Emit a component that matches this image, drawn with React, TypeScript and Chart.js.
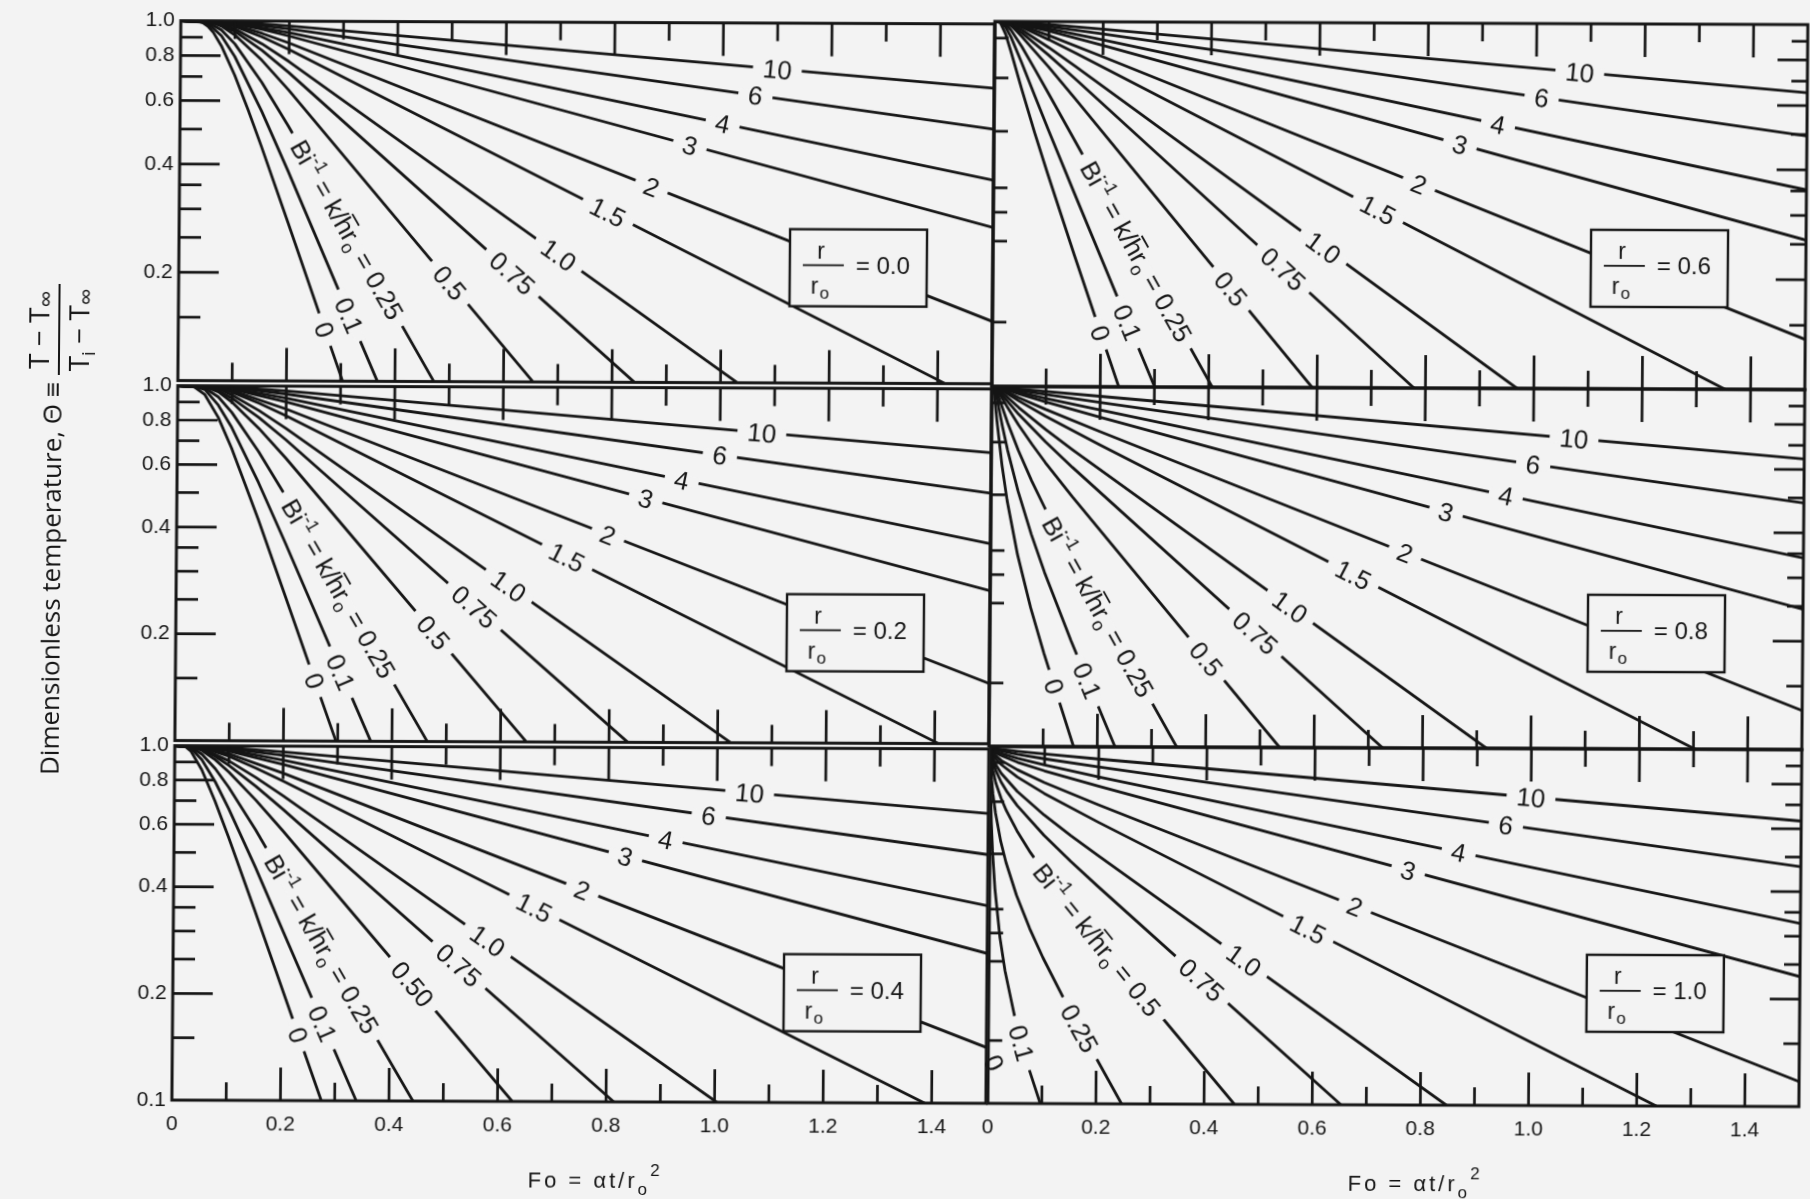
import React, { useEffect, useRef } from 'react';
import { Chart, registerables } from 'chart.js';

Chart.register(...registerables);

// ---------------- data ----------------
// Bi^-1 = k/(h ro) values, one curve each, in this order in every panel
const BI_INV_LABELS = ['0', '0.1', '0.25', '0.5', '0.75', '1.0', '1.5', '2', '3', '4', '6', '10'];
const FO_TICK_LABELS = [0, 0.2, 0.4, 0.6, 0.8, 1.0, 1.2, 1.4];
const THETA_TICK_LABELS = [0.2, 0.4, 0.6, 0.8, 1.0];
const THETA_TICK_LABELS_LAST = [0.1, 0.2, 0.4, 0.6, 0.8, 1.0];
const THETA_MAJOR = [0.2, 0.4, 0.6, 0.8];
const THETA_MINOR = [0.15, 0.25, 0.3, 0.35, 0.5, 0.7, 0.9];
const FO_MINOR = [0.1, 0.3, 0.5, 0.7, 0.9, 1.1, 1.3];
const FO_MAJOR = [0.2, 0.4, 0.6, 0.8, 1.0, 1.2, 1.4];

// [Fo, Theta] points, r/ro = 0.0
const CURVES_R00 = [
  [[0, 1], [0.03, 0.999], [0.04, 0.989], [0.05, 0.966], [0.06, 0.929], [0.075, 0.853], [0.1, 0.707], [0.125, 0.568], [0.15, 0.45], [0.2, 0.277], [0.3035, 0.1]],
  [[0, 1], [0.035, 0.998], [0.05, 0.983], [0.075, 0.909], [0.1, 0.796], [0.15, 0.563], [0.2, 0.383], [0.3676, 0.1]],
  [[0, 1], [0.04, 0.999], [0.05, 0.99], [0.075, 0.943], [0.1, 0.863], [0.15, 0.676], [0.2, 0.51], [0.4718, 0.1]],
  [[0, 1], [0.05, 0.998], [0.075, 0.967], [0.1, 0.913], [0.15, 0.778], [0.2, 0.643], [0.6546, 0.1]],
  [[0, 1], [0.06, 0.99], [0.075, 0.971], [0.1, 0.935], [0.15, 0.829], [0.2, 0.719], [0.8414, 0.1]],
  [[0, 1], [0.06, 0.992], [0.08, 0.976], [0.1, 0.949], [0.15, 0.864], [0.2, 0.772], [1.0311, 0.1]],
  [[0, 1], [0.08, 0.983], [0.1, 0.965], [0.15, 0.903], [0.2, 0.834], [1.414, 0.1]],
  [[0, 1], [0.08, 0.987], [0.1, 0.973], [0.15, 0.924], [0.2, 0.869], [1.5, 0.149]],
  [[0, 1], [0.1, 0.981], [0.15, 0.948], [0.2, 0.909], [1.5, 0.2716]],
  [[0, 1], [0.1, 0.986], [0.2, 0.929], [1.5, 0.368]],
  [[0, 1], [0.1, 0.99], [0.2, 0.952], [1.5, 0.51]],
  [[0, 1], [0.1, 0.995], [0.2, 0.97], [1.5, 0.6625]],
];

// r/ro = 0.2
const CURVES_R02 = [
  [[0, 1], [0.02, 1.0], [0.03, 0.994], [0.05, 0.944], [0.075, 0.815], [0.1, 0.668], [0.15, 0.422], [0.2, 0.259], [0.2968, 0.1]],
  [[0, 1], [0.03, 0.997], [0.05, 0.976], [0.075, 0.882], [0.1, 0.764], [0.15, 0.535], [0.2, 0.363], [0.3609, 0.1]],
  [[0, 1], [0.035, 0.997], [0.05, 0.985], [0.075, 0.93], [0.1, 0.842], [0.15, 0.653], [0.2, 0.491], [0.4651, 0.1]],
  [[0, 1], [0.05, 0.994], [0.075, 0.961], [0.1, 0.9], [0.15, 0.76], [0.2, 0.627], [0.6478, 0.1]],
  [[0, 1], [0.06, 0.988], [0.075, 0.968], [0.1, 0.923], [0.15, 0.815], [0.2, 0.706], [0.8347, 0.1]],
  [[0, 1], [0.06, 0.99], [0.08, 0.973], [0.1, 0.942], [0.15, 0.853], [0.2, 0.76], [1.0244, 0.1]],
  [[0, 1], [0.08, 0.981], [0.1, 0.96], [0.15, 0.895], [0.2, 0.825], [1.4073, 0.1]],
  [[0, 1], [0.08, 0.985], [0.1, 0.969], [0.2, 0.862], [1.5, 0.1477]],
  [[0, 1], [0.1, 0.979], [0.2, 0.903], [1.5, 0.2699]],
  [[0, 1], [0.1, 0.984], [0.2, 0.925], [1.5, 0.3663]],
  [[0, 1], [0.1, 0.99], [0.2, 0.95], [1.5, 0.5083]],
  [[0, 1], [0.1, 0.994], [0.2, 0.969], [1.5, 0.6612]],
];

// r/ro = 0.4
const CURVES_R04 = [
  [[0, 1], [0.02, 0.993], [0.03, 0.964], [0.05, 0.856], [0.075, 0.698], [0.1, 0.555], [0.15, 0.343], [0.2753, 0.1]],
  [[0, 1], [0.02, 0.998], [0.03, 0.983], [0.05, 0.914], [0.075, 0.792], [0.1, 0.666], [0.15, 0.456], [0.3397, 0.1]],
  [[0, 1], [0.03, 0.99], [0.05, 0.947], [0.075, 0.862], [0.1, 0.764], [0.15, 0.581], [0.4442, 0.1]],
  [[0, 1], [0.03, 0.995], [0.05, 0.97], [0.075, 0.913], [0.1, 0.844], [0.15, 0.704], [0.2, 0.578], [0.6273, 0.1]],
  [[0, 1], [0.04, 0.993], [0.05, 0.976], [0.075, 0.933], [0.1, 0.881], [0.15, 0.77], [0.2, 0.664], [0.8144, 0.1]],
  [[0, 1], [0.04, 0.995], [0.05, 0.982], [0.1, 0.907], [0.15, 0.815], [0.2, 0.725], [1.0041, 0.1]],
  [[0, 1], [0.05, 0.988], [0.1, 0.935], [0.15, 0.866], [0.2, 0.797], [1.387, 0.1]],
  [[0, 1], [0.05, 0.991], [0.1, 0.949], [0.2, 0.839], [1.5, 0.1438]],
  [[0, 1], [0.05, 0.994], [0.1, 0.966], [0.2, 0.888], [1.5, 0.2649]],
  [[0, 1], [0.05, 0.996], [0.1, 0.974], [0.2, 0.913], [1.5, 0.3611]],
  [[0, 1], [0.1, 0.982], [0.2, 0.941], [1.5, 0.5034]],
  [[0, 1], [0.1, 0.989], [0.2, 0.963], [1.5, 0.6573]],
];

// r/ro = 0.6
const CURVES_R06 = [
  [[0, 1], [0.01, 0.993], [0.02, 0.924], [0.03, 0.829], [0.05, 0.657], [0.075, 0.497], [0.1, 0.382], [0.15, 0.23], [0.2342, 0.1]],
  [[0, 1], [0.01, 0.995], [0.02, 0.964], [0.03, 0.906], [0.05, 0.772], [0.075, 0.625], [0.1, 0.507], [0.15, 0.337], [0.3005, 0.1]],
  [[0, 1], [0.01, 0.997], [0.02, 0.981], [0.03, 0.946], [0.05, 0.854], [0.075, 0.738], [0.1, 0.636], [0.4068, 0.1]],
  [[0, 1], [0.02, 0.991], [0.03, 0.975], [0.05, 0.909], [0.1, 0.751], [0.15, 0.614], [0.5913, 0.1]],
  [[0, 1], [0.02, 0.994], [0.05, 0.931], [0.1, 0.809], [0.15, 0.696], [0.779, 0.1]],
  [[0, 1], [0.02, 0.996], [0.05, 0.948], [0.1, 0.849], [0.15, 0.753], [0.9692, 0.1]],
  [[0, 1], [0.02, 0.998], [0.05, 0.964], [0.1, 0.892], [0.15, 0.82], [1.3527, 0.1]],
  [[0, 1], [0.05, 0.972], [0.1, 0.916], [0.2, 0.802], [1.5, 0.1372]],
  [[0, 1], [0.05, 0.978], [0.1, 0.942], [0.2, 0.861], [1.5, 0.2567]],
  [[0, 1], [0.05, 0.983], [0.1, 0.956], [0.2, 0.892], [1.5, 0.3525]],
  [[0, 1], [0.05, 0.988], [0.1, 0.97], [0.2, 0.926], [1.5, 0.4953]],
  [[0, 1], [0.05, 0.993], [0.1, 0.982], [0.2, 0.954], [1.5, 0.6508]],
];

// r/ro = 0.8
const CURVES_R08 = [
  [[0, 1], [0.0025, 0.994], [0.005, 0.943], [0.01, 0.803], [0.02, 0.603], [0.03, 0.482], [0.05, 0.341], [0.075, 0.243], [0.1, 0.182], [0.1563, 0.1]],
  [[0, 1], [0.005, 0.984], [0.01, 0.92], [0.02, 0.777], [0.03, 0.666], [0.05, 0.512], [0.075, 0.389], [0.1, 0.305], [0.15, 0.197], [0.2328, 0.1]],
  [[0, 1], [0.005, 0.993], [0.01, 0.959], [0.02, 0.871], [0.03, 0.791], [0.05, 0.664], [0.075, 0.547], [0.1, 0.459], [0.15, 0.332], [0.3467, 0.1]],
  [[0, 1], [0.01, 0.978], [0.02, 0.923], [0.03, 0.871], [0.05, 0.782], [0.075, 0.691], [0.1, 0.615], [0.15, 0.495], [0.5366, 0.1]],
  [[0, 1], [0.01, 0.984], [0.02, 0.943], [0.05, 0.837], [0.1, 0.702], [0.15, 0.597], [0.7267, 0.1]],
  [[0, 1], [0.01, 0.99], [0.02, 0.959], [0.05, 0.874], [0.1, 0.76], [0.15, 0.668], [0.9182, 0.1]],
  [[0, 1], [0.01, 0.994], [0.02, 0.973], [0.05, 0.912], [0.1, 0.827], [0.2, 0.69], [1.303, 0.1]],
  [[0, 1], [0.02, 0.979], [0.05, 0.931], [0.1, 0.864], [0.2, 0.751], [1.5, 0.1284]],
  [[0, 1], [0.02, 0.987], [0.05, 0.954], [0.1, 0.906], [0.2, 0.823], [1.5, 0.2454]],
  [[0, 1], [0.02, 0.99], [0.05, 0.964], [0.1, 0.927], [0.2, 0.862], [1.5, 0.3407]],
  [[0, 1], [0.02, 0.994], [0.05, 0.976], [0.1, 0.951], [0.2, 0.905], [1.5, 0.4841]],
  [[0, 1], [0.02, 0.996], [0.05, 0.985], [0.1, 0.969], [0.2, 0.941], [1.5, 0.6419]],
];

// r/ro = 1.0
const CURVES_R10 = [
  [[0, 1], [0, 0.1]],
  [[0, 1], [0.001, 0.72], [0.0025, 0.61], [0.005, 0.51], [0.01, 0.4], [0.02, 0.292], [0.03, 0.235], [0.05, 0.171], [0.075, 0.126], [0.0971, 0.1]],
  [[0, 1], [0.001, 0.87], [0.0025, 0.805], [0.005, 0.735], [0.01, 0.65], [0.02, 0.542], [0.03, 0.474], [0.05, 0.383], [0.075, 0.309], [0.1, 0.256], [0.15, 0.183], [0.2475, 0.1]],
  [[0, 1], [0.001, 0.93], [0.0025, 0.893], [0.005, 0.852], [0.01, 0.79], [0.02, 0.716], [0.03, 0.661], [0.05, 0.58], [0.075, 0.505], [0.1, 0.447], [0.15, 0.357], [0.2, 0.288], [0.4562, 0.1]],
  [[0, 1], [0.001, 0.95], [0.0025, 0.925], [0.005, 0.897], [0.01, 0.855], [0.02, 0.794], [0.03, 0.75], [0.05, 0.683], [0.1, 0.564], [0.15, 0.477], [0.2, 0.407], [0.6532, 0.1]],
  [[0, 1], [0.001, 0.964], [0.0025, 0.944], [0.005, 0.92], [0.01, 0.888], [0.02, 0.84], [0.05, 0.748], [0.1, 0.643], [0.15, 0.563], [0.2, 0.496], [0.8481, 0.1]],
  [[0, 1], [0.0025, 0.96], [0.005, 0.945], [0.01, 0.921], [0.02, 0.889], [0.05, 0.821], [0.1, 0.739], [0.2, 0.615], [1.2363, 0.1]],
  [[0, 1], [0.0025, 0.97], [0.005, 0.958], [0.01, 0.94], [0.02, 0.913], [0.05, 0.86], [0.1, 0.793], [0.2, 0.688], [1.5, 0.1175]],
  [[0, 1], [0.0025, 0.978], [0.005, 0.97], [0.01, 0.957], [0.02, 0.942], [0.05, 0.903], [0.1, 0.855], [0.2, 0.776], [1.5, 0.2312]],
  [[0, 1], [0.005, 0.978], [0.01, 0.967], [0.02, 0.955], [0.05, 0.926], [0.1, 0.888], [0.2, 0.824], [1.5, 0.3258]],
  [[0, 1], [0.005, 0.986], [0.01, 0.979], [0.02, 0.97], [0.05, 0.95], [0.1, 0.924], [0.2, 0.878], [1.5, 0.4699]],
  [[0, 1], [0.005, 0.992], [0.01, 0.987], [0.02, 0.981], [0.05, 0.969], [0.1, 0.953], [0.2, 0.924], [1.5, 0.6305]],
];

// label placement along each curve (Fo where the label sits)
const LABEL_FO_R00 = [0.27, 0.315, 0.31, 0.5, 0.615, 0.7, 0.79, 0.87, 0.94, 1.0, 1.06, 1.1];
const LABEL_FO_R06 = [0.2, 0.25, 0.265, 0.44, 0.536, 0.61, 0.71, 0.785, 0.86, 0.93, 1.01, 1.08];
const LABEL_FO_R02 = [0.257, 0.305, 0.3, 0.475, 0.55, 0.613, 0.72, 0.795, 0.864, 0.93, 1.0, 1.077];
const LABEL_FO_R08 = [0.12, 0.181, 0.2, 0.4, 0.49, 0.554, 0.67, 0.765, 0.84, 0.95, 1.0, 1.075];
const LABEL_FO_R04 = [0.232, 0.277, 0.274, 0.442, 0.527, 0.58, 0.665, 0.753, 0.832, 0.906, 0.985, 1.06];
const LABEL_FO_R10 = [[0.012, 0.13, 65], 0.062, 0.169, 0.2, 0.394, 0.472, 0.59, 0.676, 0.774, 0.867, 0.954, 1.0];

// ---------------- layout / style ----------------
const INK = '#151515';
const BG = '#f3f3f3';
const SANS = '"Liberation Sans", Arial, Helvetica, sans-serif';
const COL_X = [176, 990, 1803];
const ROW_Y = [21, 386, 746, 1103];
const BOX_DX = [611, 598];
const BOX_DY = 206;
const BOX_W = 137;
const BOX_H = 77;
const SKEW_X = -0.0083;
const SKEW_Y = 0.004;
const Y_AXIS_W = 66;
const X_AXIS_H = 44;
const LABEL_SIZE = 26;
const LABEL_SMALL = 18;

const PANELS = [
  { key: 'r00', r: '0.0', col: 0, row: 0, curves: CURVES_R00, labels: LABEL_FO_R00, biIndex: 2, texts: {} },
  { key: 'r06', r: '0.6', col: 1, row: 0, curves: CURVES_R06, labels: LABEL_FO_R06, biIndex: 2, texts: {} },
  { key: 'r02', r: '0.2', col: 0, row: 1, curves: CURVES_R02, labels: LABEL_FO_R02, biIndex: 2, texts: {} },
  { key: 'r08', r: '0.8', col: 1, row: 1, curves: CURVES_R08, labels: LABEL_FO_R08, biIndex: 2, texts: {} },
  { key: 'r04', r: '0.4', col: 0, row: 2, curves: CURVES_R04, labels: LABEL_FO_R04, biIndex: 2, texts: { 3: '0.50' } },
  { key: 'r10', r: '1.0', col: 1, row: 2, curves: CURVES_R10, labels: LABEL_FO_R10, biIndex: 3, texts: {} },
];

const font = (px: number) => `${px}px ${SANS}`;

function locate(pts: number[][], fo: number) {
  for (let i = 0; i < pts.length - 1; i++) {
    const [x1, y1] = pts[i];
    const [x2, y2] = pts[i + 1];
    if (x2 > x1 && fo >= x1 && fo <= x2) {
      const t = (fo - x1) / (x2 - x1);
      const ly = Math.log10(y1) + t * (Math.log10(y2) - Math.log10(y1));
      return { th: Math.pow(10, ly), i };
    }
  }
  return null;
}

function labelSegs(text: string, isBi: boolean) {
  if (!isBi) return [{ t: text }];
  return [
    { t: 'Bi' }, { t: '-1', sup: true }, { t: ' = k/' }, { t: 'h', bar: true },
    { t: 'r' }, { t: 'o', sub: true }, { t: ' = ' + text },
  ];
}

function drawLabel(ctx: CanvasRenderingContext2D, x: number, y: number, ang: number, segs: any[], erase: boolean) {
  const size = LABEL_SIZE;
  const small = LABEL_SMALL;
  const widths = segs.map((s) => {
    ctx.font = font(s.sup || s.sub ? small : size);
    return ctx.measureText(s.t).width;
  });
  const total = widths.reduce((a, b) => a + b, 0);
  ctx.save();
  ctx.translate(x, y);
  ctx.rotate(ang);
  if (erase) {
    ctx.fillStyle = BG;
    ctx.fillRect(-total / 2 - 10, -5, total + 20, 10);
  }
  ctx.fillStyle = INK;
  ctx.textAlign = 'left';
  ctx.textBaseline = 'alphabetic';
  let cx = -total / 2;
  const base = size * 0.36;
  segs.forEach((s, i) => {
    ctx.font = font(s.sup || s.sub ? small : size);
    const dy = s.sup ? -size * 0.45 : s.sub ? size * 0.22 : 0;
    ctx.fillText(s.t, cx, base + dy);
    if (s.bar) ctx.fillRect(cx + 1, base - size * 0.86, widths[i] - 1, 1.8);
    cx += widths[i];
  });
  ctx.restore();
}

function makeDecor(p: any) {
  return {
    id: 'decor_' + p.key,
    afterDatasetsDraw(chart: any) {
      const { ctx, chartArea: a } = chart;
      const xs = chart.scales.x;
      const ys = chart.scales.y;
      const px = (f: number) => xs.getPixelForValue(f);
      const py = (t: number) => ys.getPixelForValue(t);
      ctx.save();

      // curve labels
      p.labels.forEach((spec: any, i: number) => {
        const text = p.texts[i] || BI_INV_LABELS[i];
        const segs = labelSegs(text, i === p.biIndex);
        if (Array.isArray(spec)) {
          drawLabel(ctx, px(spec[0]), py(spec[1]), (spec[2] * Math.PI) / 180, segs, false);
          return;
        }
        const pts = p.curves[i];
        const loc = locate(pts, spec);
        if (!loc) return;
        const [x1, y1] = pts[loc.i];
        const [x2, y2] = pts[loc.i + 1];
        const ang = Math.atan2(py(y2) - py(y1), px(x2) - px(x1));
        drawLabel(ctx, px(spec), py(loc.th), ang, segs, true);
      });

      // r/ro box
      const bx = a.left + BOX_DX[p.col];
      const by = a.top + BOX_DY;
      ctx.fillStyle = BG;
      ctx.fillRect(bx, by, BOX_W, BOX_H);
      ctx.strokeStyle = INK;
      ctx.lineWidth = 2.4;
      ctx.strokeRect(bx, by, BOX_W, BOX_H);
      ctx.fillStyle = INK;
      ctx.textBaseline = 'alphabetic';
      ctx.font = font(23);
      ctx.textAlign = 'center';
      ctx.fillText('r', bx + 31, by + 29);
      ctx.fillRect(bx + 13, by + 35, 41, 1.8);
      ctx.textAlign = 'left';
      ctx.fillText('r', bx + 21, by + 64);
      ctx.font = font(17);
      ctx.fillText('o', bx + 30, by + 69);
      ctx.font = font(24);
      ctx.fillText('= ' + p.r, bx + 66, by + 44);

      // frame
      ctx.strokeStyle = INK;
      ctx.lineWidth = 3;
      ctx.strokeRect(a.left, a.top, a.right - a.left, a.bottom - a.top);

      // ticks
      ctx.lineWidth = 2.7;
      ctx.lineCap = 'butt';
      const seg = (x1: number, y1: number, x2: number, y2: number) => {
        ctx.beginPath();
        ctx.moveTo(x1, y1);
        ctx.lineTo(x2, y2);
        ctx.stroke();
      };
      FO_MAJOR.forEach((f) => {
        seg(px(f), a.top, px(f), a.top + 33);
        seg(px(f), a.bottom, px(f), a.bottom - 33);
      });
      FO_MINOR.forEach((f) => {
        seg(px(f), a.top, px(f), a.top + 18);
        seg(px(f), a.bottom, px(f), a.bottom - 18);
      });
      if (p.col === 0) {
        THETA_MAJOR.forEach((t) => seg(a.left, py(t), a.left + 40, py(t)));
        THETA_MINOR.forEach((t) => seg(a.left, py(t), a.left + 22, py(t)));
      } else {
        THETA_MINOR.forEach((t) => seg(a.left, py(t), a.left + 14, py(t)));
        THETA_MAJOR.forEach((t) => seg(a.right, py(t), a.right - 30, py(t)));
        THETA_MINOR.forEach((t) => seg(a.right, py(t), a.right - 16, py(t)));
      }
      ctx.restore();
    },
  };
}

function Panel({ p }: { p: any }) {
  const ref = useRef<HTMLCanvasElement>(null);
  const isLeft = p.col === 0;
  const isBottom = p.row === 2;
  const left = COL_X[p.col];
  const right = COL_X[p.col + 1];
  const top = ROW_Y[p.row];
  const bottom = ROW_Y[p.row + 1];
  const pL = isLeft ? 96 : 16;
  const pR = 16;
  const pT = 16;
  const pB = isBottom ? 72 : 16;
  const cw = right - left + pL + pR;
  const ch = bottom - top + pT + pB;

  useEffect(() => {
    const canvas = ref.current;
    if (!canvas) return;
    const yTicks = isBottom ? THETA_TICK_LABELS_LAST : THETA_TICK_LABELS;
    const chart = new Chart(canvas, {
      type: 'line',
      data: {
        datasets: p.curves.map((pts: number[][], i: number) => ({
          label: BI_INV_LABELS[i],
          data: pts.map(([x, y]) => ({ x, y })),
          borderColor: INK,
          borderWidth: 2.8,
          pointRadius: 0,
          fill: false,
          tension: 0,
          borderJoinStyle: 'round',
        })),
      },
      options: {
        responsive: false,
        animation: false,
        events: [],
        layout: {
          padding: {
            left: isLeft ? pL - Y_AXIS_W : pL,
            right: pR,
            top: pT,
            bottom: isBottom ? pB - X_AXIS_H : pB,
          },
        },
        plugins: { legend: { display: false }, tooltip: { enabled: false } },
        scales: {
          x: {
            type: 'linear',
            min: 0,
            max: 1.5,
            display: isBottom,
            grid: { display: false, drawTicks: false },
            border: { display: false },
            afterBuildTicks: (s: any) => {
              s.ticks = FO_TICK_LABELS.map((v) => ({ value: v }));
            },
            afterFit: (s: any) => {
              s.height = isBottom ? X_AXIS_H : 0;
            },
            ticks: {
              autoSkip: false,
              maxRotation: 0,
              padding: 12,
              color: INK,
              font: { family: SANS, size: 21 },
              callback: (v: any) => (Number(v) === 0 ? '0' : Number(v).toFixed(1)),
            },
          },
          y: {
            type: 'logarithmic',
            min: 0.1,
            max: 1.0,
            display: isLeft,
            position: 'left',
            grid: { display: false, drawTicks: false },
            border: { display: false },
            afterBuildTicks: (s: any) => {
              s.ticks = yTicks.map((v) => ({ value: v }));
            },
            afterFit: (s: any) => {
              s.width = isLeft ? Y_AXIS_W : 0;
            },
            ticks: {
              autoSkip: false,
              padding: 6,
              color: INK,
              font: { family: SANS, size: 21 },
              callback: (v: any) => Number(v).toFixed(1),
            },
          },
        },
      },
      plugins: [makeDecor(p)],
    } as any);
    return () => chart.destroy();
  }, []);

  return (
    <canvas
      ref={ref}
      width={cw}
      height={ch}
      style={{ position: 'absolute', left: left - pL, top: top - pT, width: cw, height: ch }}
    />
  );
}

function FoTitle({ cx }: { cx: number }) {
  return (
    <div
      style={{
        position: 'absolute', left: cx, top: 1183, transform: 'translate(-50%, -50%)',
        fontFamily: SANS, fontSize: 22, letterSpacing: 3, color: INK, whiteSpace: 'nowrap', lineHeight: '24px',
      }}
    >
      Fo = αt/r
      <span style={{ fontSize: 17, position: 'relative', top: 7 }}>o</span>
      <span style={{ fontSize: 17, position: 'relative', top: -12 }}>2</span>
    </div>
  );
}

export default function App() {
  useEffect(() => {
    document.body.style.margin = '0';
    document.body.style.overflow = 'hidden';
    document.documentElement.style.overflow = 'hidden';
  }, []);
  const inf = { fontSize: 24, position: 'relative' as const, top: 5 };
  return (
    <div style={{ position: 'fixed', left: 0, top: 0, width: 1810, height: 1199, overflow: 'hidden', background: BG }}>
      <div
        style={{
          position: 'absolute', left: 0, top: 0, width: 1810, height: 1199,
          transform: `matrix(1, ${SKEW_Y}, ${SKEW_X}, 1, 0, 0)`, transformOrigin: '905px 600px',
        }}
      >
        {PANELS.map((p) => (
          <Panel key={p.key} p={p} />
        ))}
        <FoTitle cx={600} />
        <FoTitle cx={1420} />
        <div
          style={{
            position: 'absolute', left: 58, top: 533, transform: 'translate(-50%, -50%) rotate(-90deg)',
            display: 'flex', alignItems: 'center', whiteSpace: 'nowrap', color: INK,
            fontFamily: '"Open Sans", sans-serif', fontSize: 26,
          }}
        >
          <span style={{ position: 'relative', top: -8 }}>Dimensionless temperature, Θ ≡&nbsp;</span>
          <span style={{ display: 'inline-flex', flexDirection: 'column', alignItems: 'center', lineHeight: '30px', fontSize: 28 }}>
            <span style={{ padding: '0 4px 3px' }}>
              T − T<span style={inf}>∞</span>
            </span>
            <span style={{ borderTop: `2px solid ${INK}`, alignSelf: 'stretch' }} />
            <span style={{ padding: '3px 4px 0' }}>
              T<span style={{ fontSize: 19, position: 'relative', top: 6 }}>i</span> − T
              <span style={inf}>∞</span>
            </span>
          </span>
        </div>
      </div>
    </div>
  );
}
